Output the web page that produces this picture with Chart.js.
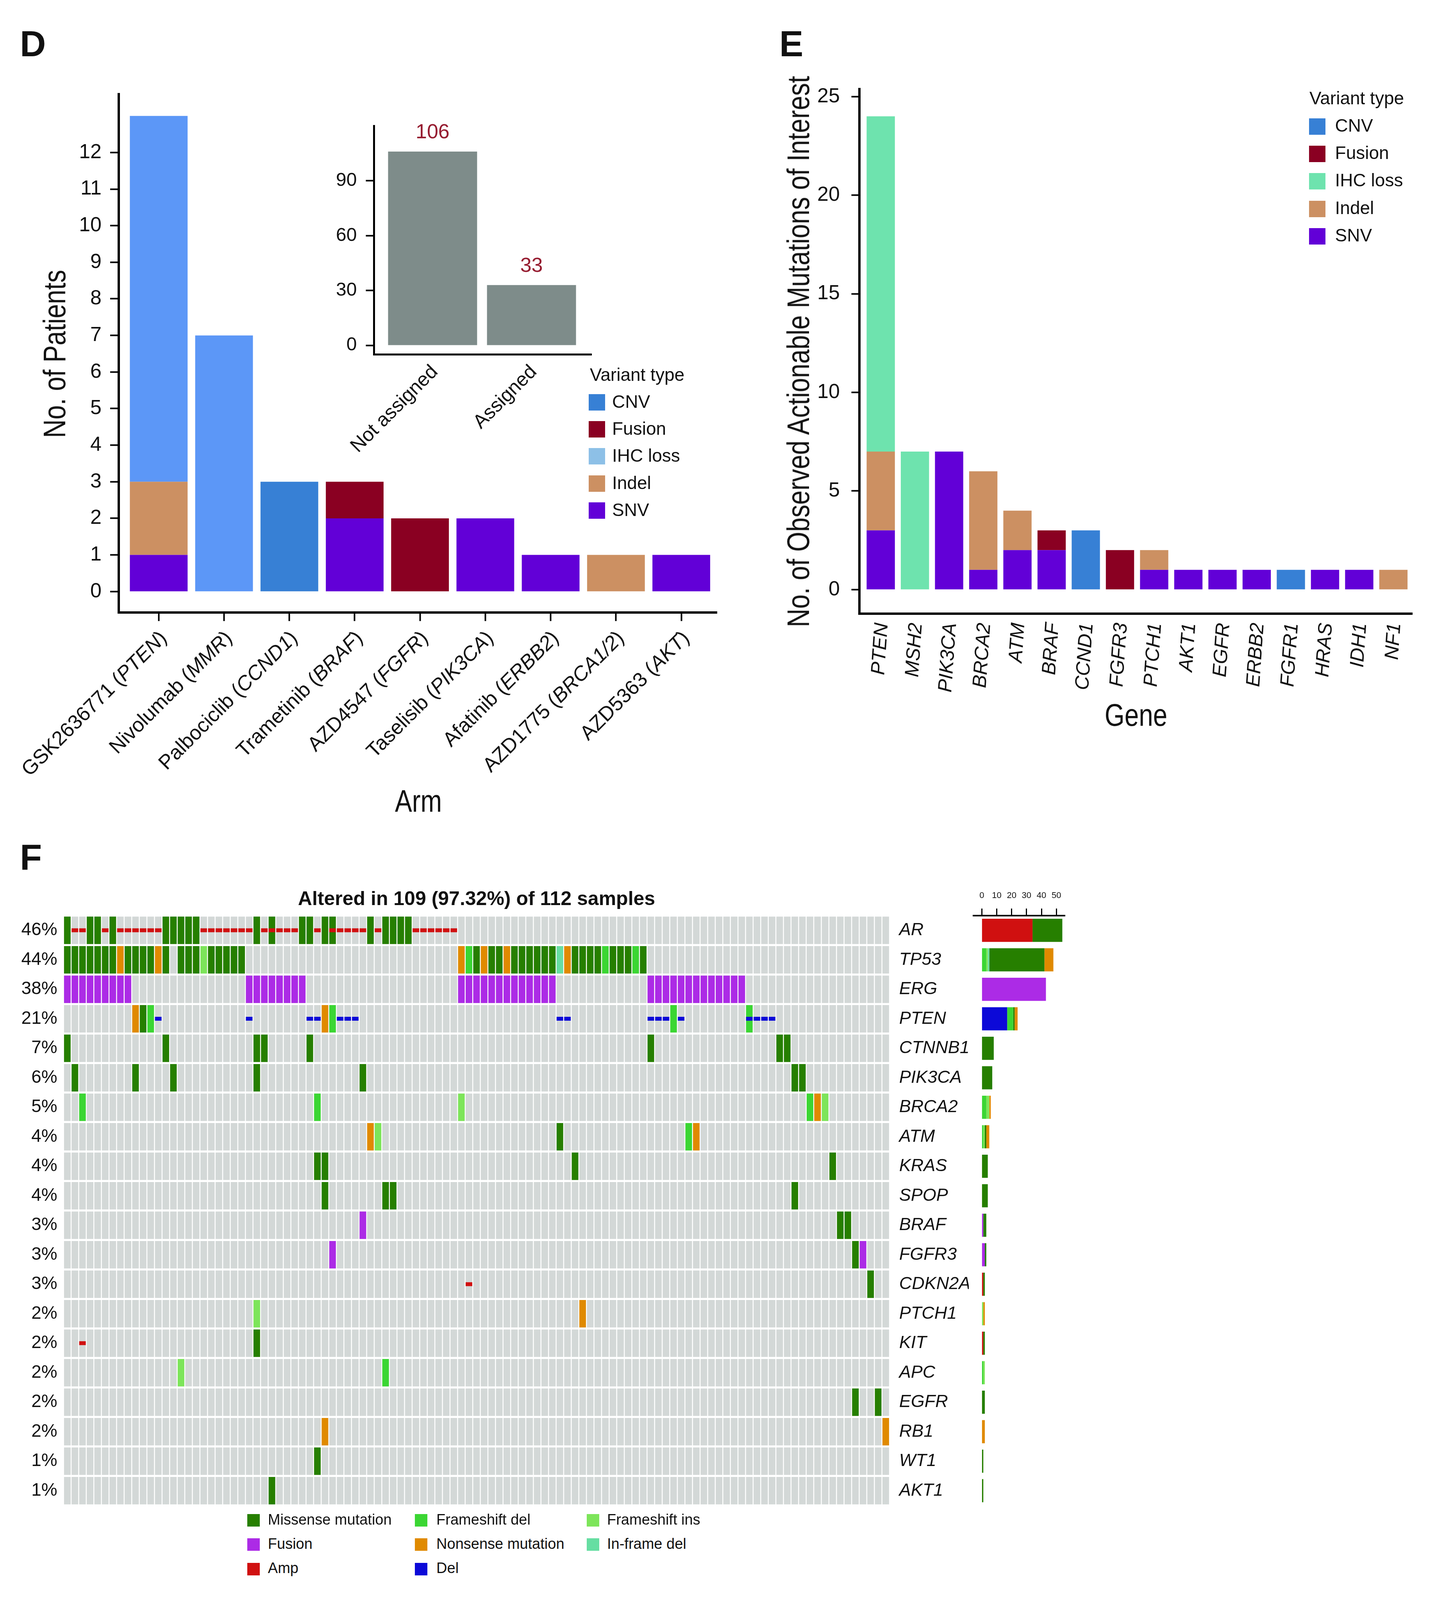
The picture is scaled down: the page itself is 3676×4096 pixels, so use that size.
<!DOCTYPE html>
<html>
<head>
<meta charset="utf-8">
<script src="https://cdn.jsdelivr.net/npm/chart.js@4.4.1/dist/chart.umd.min.js"></script>
<style>
html, body { margin: 0; padding: 0; background: #fff; }
body { width: 3676px; height: 4096px; position: relative; overflow: hidden; font-family: 'Liberation Sans', Arial, sans-serif; color: #111; }
canvas { position: absolute; }
.t { position: absolute; white-space: nowrap; line-height: 1; }
.sw { position: absolute; }
</style>
</head>
<body>
<script>
// ---------- panel D: patients per arm ----------
const arms = ['GSK2636771', 'Nivolumab', 'Palbociclib', 'Trametinib', 'AZD4547', 'Taselisib', 'Afatinib', 'AZD1775', 'AZD5363'];
const armTargets = ['PTEN', 'MMR', 'CCND1', 'BRAF', 'FGFR', 'PIK3CA', 'ERBB2', 'BRCA1/2', 'AKT'];
const armSNV    = [1, 0, 0, 2, 0, 2, 1, 0, 1];
const armIndel  = [2, 0, 0, 0, 0, 0, 0, 1, 0];
const armFusion = [0, 0, 0, 1, 2, 0, 0, 0, 0];
const armCNV    = [0, 0, 3, 0, 0, 0, 0, 0, 0];
const armIHC    = [10, 7, 0, 0, 0, 0, 0, 0, 0];

// inset
const assignLabels = ['Not assigned', 'Assigned'];
const assignCounts = [106, 33];

// ---------- panel E: actionable mutations per gene ----------
const genesE     = ['PTEN', 'MSH2', 'PIK3CA', 'BRCA2', 'ATM', 'BRAF', 'CCND1', 'FGFR3', 'PTCH1', 'AKT1', 'EGFR', 'ERBB2', 'FGFR1', 'HRAS', 'IDH1', 'NF1'];
const geneSNV    = [3, 0, 7, 1, 2, 2, 0, 0, 1, 1, 1, 1, 0, 1, 1, 0];
const geneIndel  = [4, 0, 0, 5, 2, 0, 0, 0, 1, 0, 0, 0, 0, 0, 0, 1];
const geneFusion = [0, 0, 0, 0, 0, 1, 0, 2, 0, 0, 0, 0, 0, 0, 0, 0];
const geneCNV    = [0, 0, 0, 0, 0, 0, 3, 0, 0, 0, 0, 0, 1, 0, 0, 0];
const geneIHC    = [17, 7, 0, 0, 0, 0, 0, 0, 0, 0, 0, 0, 0, 0, 0, 0];

// ---------- panel F: oncoprint ----------
const oncoGenes = ['AR', 'TP53', 'ERG', 'PTEN', 'CTNNB1', 'PIK3CA', 'BRCA2', 'ATM', 'KRAS', 'SPOP', 'BRAF', 'FGFR3', 'CDKN2A', 'PTCH1', 'KIT', 'APC', 'EGFR', 'RB1', 'WT1', 'AKT1'];
const oncoPct = ['46%', '44%', '38%', '21%', '7%', '6%', '5%', '4%', '4%', '4%', '3%', '3%', '3%', '2%', '2%', '2%', '2%', '2%', '1%', '1%'];
const nSamples = 109;
// sample columns (1..109) carrying each alteration, per gene
const missense = {
  AR: [1, 4, 5, 7, 14, 15, 16, 17, 18, 26, 28, 32, 33, 35, 36, 41, 43, 44, 45, 46],
  TP53: [1, 2, 3, 4, 5, 6, 7, 9, 10, 11, 12, 14, 16, 17, 18, 20, 21, 22, 23, 24, 55, 57, 58, 60, 61, 62, 63, 64, 65, 68, 69, 70, 71, 73, 74, 75, 77],
  PTEN: [11],
  CTNNB1: [1, 14, 26, 27, 33, 78, 95, 96],
  PIK3CA: [2, 10, 15, 26, 40, 97, 98],
  ATM: [66],
  KRAS: [34, 35, 68, 102],
  SPOP: [35, 43, 44, 97],
  BRAF: [103, 104],
  FGFR3: [105],
  CDKN2A: [107],
  KIT: [26],
  EGFR: [105, 108],
  WT1: [34],
  AKT1: [28]
};
const nonsense = { TP53: [8, 13, 53, 56, 59, 67], PTEN: [10, 35], BRCA2: [100], ATM: [41, 84], PTCH1: [69], RB1: [35, 109] };
const fsDel = { TP53: [54, 72, 76], PTEN: [12, 36, 81, 91], BRCA2: [3, 34, 99], ATM: [83], APC: [43] };
const fsIns = { TP53: [19], BRCA2: [53, 101], ATM: [42], PTCH1: [26], APC: [16] };
const inframeDel = { TP53: [66] };
const fusion = {
  ERG: [1, 2, 3, 4, 5, 6, 7, 8, 9, 25, 26, 27, 28, 29, 30, 31, 32, 53, 54, 55, 56, 57, 58, 59, 60, 61, 62, 63, 64, 65,
        78, 79, 80, 81, 82, 83, 84, 85, 86, 87, 88, 89, 90],
  BRAF: [40],
  FGFR3: [36, 106]
};
const amp = {
  AR: [2, 3, 6, 8, 9, 10, 11, 12, 13, 19, 20, 21, 22, 23, 24, 25, 27, 28, 29, 30, 31, 34, 36, 37, 38, 39, 40, 42, 47, 48, 49, 50, 51, 52],
  CDKN2A: [54],
  KIT: [3]
};
const del = { PTEN: [13, 25, 33, 34, 37, 38, 39, 66, 67, 78, 79, 80, 82, 91, 92, 93, 94] };

// side bar: alterations per gene
const sideAmp      = [34, 0, 0, 0, 0, 0, 0, 0, 0, 0, 0, 0, 1, 0, 1, 0, 0, 0, 0, 0];
const sideDel      = [0, 0, 0, 17, 0, 0, 0, 0, 0, 0, 0, 0, 0, 0, 0, 0, 0, 0, 0, 0];
const sideFusion   = [0, 0, 43, 0, 0, 0, 0, 0, 0, 0, 1, 2, 0, 0, 0, 0, 0, 0, 0, 0];
const sideFsDel    = [0, 3, 0, 4, 0, 0, 3, 1, 0, 0, 0, 0, 0, 0, 0, 1, 0, 0, 0, 0];
const sideFsIns    = [0, 1, 0, 0, 0, 0, 2, 1, 0, 0, 0, 0, 0, 1, 0, 1, 0, 0, 0, 0];
const sideInframe  = [0, 1, 0, 0, 0, 0, 0, 0, 0, 0, 0, 0, 0, 0, 0, 0, 0, 0, 0, 0];
const sideMissense = [20, 37, 0, 1, 8, 7, 0, 1, 4, 4, 2, 1, 1, 0, 1, 0, 2, 0, 1, 1];
const sideNonsense = [0, 6, 0, 2, 0, 0, 1, 2, 0, 0, 0, 0, 0, 1, 0, 0, 0, 2, 0, 0];

// ---------- styles ----------
const SANS = "'Liberation Sans', Arial, sans-serif";
const VC = { cnv: '#3780D5', fusion: '#8A0022', ihcD: '#5C97F7', ihcDkey: '#8DC0E7', ihcE: '#6EE3AE', indel: '#CC9062', snv: '#6200D7' };
const OC = { missense: '#267F00', fsDel: '#3BD633', fsIns: '#7DE55A', fusion: '#AC2BE6', nonsense: '#E08A00',
             inframe: '#66DEA2', amp: '#D01010', del: '#0C09D8', none: '#D3D8D7' };

Chart.defaults.font.family = SANS;
Chart.defaults.color = '#111';

function fixBox(size, horizontal) {
  return s => {
    if (horizontal) s.height = size; else s.width = size;
    s.paddingTop = 0; s.paddingBottom = 0; s.paddingLeft = 0; s.paddingRight = 0;
  };
}
function makeCanvas(left, top, w, h) {
  const c = document.createElement('canvas');
  c.width = w; c.height = h;
  c.style.left = left + 'px'; c.style.top = top + 'px';
  c.style.width = w + 'px'; c.style.height = h + 'px';
  document.body.appendChild(c);
  return c;
}
function addText(txt, x, baseline, size, opt) {
  opt = opt || {};
  const d = document.createElement('div');
  d.className = 't';
  d.textContent = txt;
  d.style.left = x + 'px';
  d.style.top = (baseline - 0.8465 * size) + 'px';
  d.style.fontSize = size + 'px';
  if (opt.bold) d.style.fontWeight = 'bold';
  if (opt.center) d.style.transform = 'translateX(-50%)';
  document.body.appendChild(d);
}
// condensed axis title centred on (cx, cy)
function addTitle(txt, cx, cy, size, rotate) {
  const d = document.createElement('div');
  d.className = 't';
  d.textContent = txt;
  d.style.left = cx + 'px';
  d.style.top = cy + 'px';
  d.style.fontSize = size + 'px';
  d.style.transform = 'translate(-50%, -50%)' + (rotate ? ' rotate(-90deg)' : '') + ' scaleX(0.82)';
  document.body.appendChild(d);
}
function addSwatch(x, y, w, h, color) {
  const d = document.createElement('div');
  d.className = 'sw';
  d.style.left = x + 'px'; d.style.top = y + 'px';
  d.style.width = w + 'px'; d.style.height = h + 'px';
  d.style.background = color;
  document.body.appendChild(d);
}
// rotated x labels, parts = [text, italic]
function rotLabels(rows, angle, dx, dy, size) {
  return {
    id: 'rotLabels',
    afterDraw(chart) {
      const ctx = chart.ctx, xs = chart.scales.x, base = chart.chartArea.bottom;
      ctx.save();
      ctx.fillStyle = '#111';
      ctx.textBaseline = 'middle';
      ctx.textAlign = 'left';
      rows.forEach((parts, i) => {
        const fonts = parts.map(p => (p[1] ? 'italic ' : '') + size + 'px ' + SANS);
        let w = 0;
        const widths = parts.map((p, k) => { ctx.font = fonts[k]; const m = ctx.measureText(p[0]).width; w += m; return m; });
        ctx.save();
        ctx.translate(xs.getPixelForValue(i) + dx, base + dy);
        ctx.rotate(angle * Math.PI / 180);
        let x = -w;
        parts.forEach((p, k) => { ctx.font = fonts[k]; ctx.fillText(p[0], x, 0); x += widths[k]; });
        ctx.restore();
      });
      ctx.restore();
    }
  };
}
const tickGrid = (len, w) => ({ display: true, offset: false, drawOnChartArea: false, drawTicks: true, tickLength: len, tickWidth: w, tickColor: '#000' });
const noGrid = { display: false, drawTicks: false, offset: false };
const pts = arr => arr.map((v, i) => ({ x: i, y: v }));
const base = { responsive: false, animation: false, devicePixelRatio: 1 };
const quiet = { legend: { display: false }, tooltip: { enabled: false } };

// ---------- D main ----------
new Chart(makeCanvas(0, 150, 1900, 2000), {
  type: 'bar',
  data: { datasets: [
    { label: 'SNV', data: pts(armSNV), backgroundColor: VC.snv },
    { label: 'Indel', data: pts(armIndel), backgroundColor: VC.indel },
    { label: 'Fusion', data: pts(armFusion), backgroundColor: VC.fusion },
    { label: 'CNV', data: pts(armCNV), backgroundColor: VC.cnv },
    { label: 'IHC loss', data: pts(armIHC), backgroundColor: VC.ihcD }
  ] },
  options: Object.assign({}, base, {
    layout: { padding: { top: 90.5, right: 64.5, left: 0, bottom: 0 } },
    datasets: { bar: { categoryPercentage: 1, barPercentage: 0.884, borderWidth: 0 } },
    plugins: quiet,
    scales: {
      x: { type: 'linear', stacked: true, min: -0.612, max: 8.547, offset: false,
           afterBuildTicks: s => { s.ticks = arms.map((a, i) => ({ value: i })); },
           afterFit: fixBox(582.1, true),
           ticks: { display: false },
           grid: tickGrid(22, 4),
           border: { display: true, color: '#000', width: 6 } },
      y: { type: 'linear', stacked: true, min: -0.573, max: 13.6,
           afterBuildTicks: s => { s.ticks = Array.from({ length: 13 }, (_, i) => ({ value: i })); },
           afterFit: fixBox(304, false),
           ticks: { font: { size: 52 }, color: '#111', padding: 22, callback: v => v },
           grid: tickGrid(22, 4),
           border: { display: true, color: '#000', width: 6 } }
    }
  }),
  plugins: [rotLabels(arms.map((a, i) => [[a + ' (', false], [armTargets[i], true], [')', false]]), -45, 13, 58, 52)]
});

// ---------- D inset ----------
new Chart(makeCanvas(650, 290, 910, 960), {
  type: 'bar',
  data: { datasets: [{ label: 'Patients', data: pts(assignCounts), backgroundColor: '#7E8C8A' }] },
  options: Object.assign({}, base, {
    layout: { padding: { top: 32.6, right: 45.7, left: 0, bottom: 0 } },
    datasets: { bar: { categoryPercentage: 1, barPercentage: 0.9, borderWidth: 0 } },
    plugins: quiet,
    scales: {
      x: { type: 'linear', min: -0.592, max: 1.607, offset: false,
           afterBuildTicks: s => { s.ticks = assignLabels.map((a, i) => ({ value: i })); },
           afterFit: fixBox(342.1, true),
           ticks: { display: false },
           grid: noGrid,
           border: { display: true, color: '#000', width: 5 } },
      y: { type: 'linear', min: -5.1, max: 120,
           afterBuildTicks: s => { s.ticks = [0, 30, 60, 90].map(v => ({ value: v })); },
           afterFit: fixBox(307.5, false),
           ticks: { font: { size: 48 }, color: '#111', padding: 23, callback: v => v },
           grid: tickGrid(21, 4),
           border: { display: true, color: '#000', width: 5 } }
    }
  }),
  plugins: [
    rotLabels(assignLabels.map(l => [[l, false]]), -45, 6, 36.5, 50),
    { id: 'valueLabels', afterDatasetsDraw(chart) {
        const ctx = chart.ctx;
        ctx.save();
        ctx.fillStyle = '#961C30';
        ctx.font = '52px ' + SANS;
        ctx.textAlign = 'center';
        ctx.textBaseline = 'alphabetic';
        chart.getDatasetMeta(0).data.forEach((bar, i) => ctx.fillText(String(assignCounts[i]), bar.x, bar.y - 34));
        ctx.restore();
    } }
  ]
});

// ---------- E ----------
new Chart(makeCanvas(1950, 150, 1710, 1800), {
  type: 'bar',
  data: { datasets: [
    { label: 'SNV', data: pts(geneSNV), backgroundColor: VC.snv },
    { label: 'Indel', data: pts(geneIndel), backgroundColor: VC.indel },
    { label: 'Fusion', data: pts(geneFusion), backgroundColor: VC.fusion },
    { label: 'CNV', data: pts(geneCNV), backgroundColor: VC.cnv },
    { label: 'IHC loss', data: pts(geneIHC), backgroundColor: VC.ihcE }
  ] },
  options: Object.assign({}, base, {
    layout: { padding: { top: 78.2, right: 44.4, left: 0, bottom: 0 } },
    datasets: { bar: { categoryPercentage: 1, barPercentage: 0.827, borderWidth: 0 } },
    plugins: quiet,
    scales: {
      x: { type: 'linear', stacked: true, min: -0.63, max: 15.556, offset: false,
           afterBuildTicks: s => { s.ticks = genesE.map((g, i) => ({ value: i })); },
           afterFit: fixBox(379.2, true),
           ticks: { display: false },
           grid: noGrid,
           border: { display: true, color: '#000', width: 6 } },
      y: { type: 'linear', stacked: true, min: -1.22, max: 25.38,
           afterBuildTicks: s => { s.ticks = [0, 5, 10, 15, 20, 25].map(v => ({ value: v })); },
           afterFit: fixBox(249.5, false),
           ticks: { font: { size: 52 }, color: '#111', padding: 29.6, callback: v => v },
           grid: tickGrid(20, 4),
           border: { display: true, color: '#000', width: 6 } }
    }
  }),
  plugins: [rotLabels(genesE.map(g => [[g, true]]), -86, 4, 24, 50)]
});

// ---------- F oncoprint ----------
const rowH = 0.464, thinH = 0.066;
function cells(map, h) {
  const out = [];
  oncoGenes.forEach((g, r) => (map[g] || []).forEach(c => out.push({ x: c, y: [r - h, r + h] })));
  return out;
}
const bgCells = [];
for (let r = 0; r < oncoGenes.length; r++) {
  for (let c = 1; c <= nSamples; c++) bgCells.push({ x: c, y: [r - rowH, r + rowH] });
}
const rowTicks = s => { s.ticks = oncoGenes.map((g, i) => ({ value: i })); };
new Chart(makeCanvas(0, 2330, 2480, 1540), {
  type: 'bar',
  data: { datasets: [
    { label: 'Amp', data: cells(amp, thinH), backgroundColor: OC.amp },
    { label: 'Del', data: cells(del, thinH), backgroundColor: OC.del },
    { label: 'Missense mutation', data: cells(missense, rowH), backgroundColor: OC.missense },
    { label: 'Frameshift del', data: cells(fsDel, rowH), backgroundColor: OC.fsDel },
    { label: 'Frameshift ins', data: cells(fsIns, rowH), backgroundColor: OC.fsIns },
    { label: 'Fusion', data: cells(fusion, rowH), backgroundColor: OC.fusion },
    { label: 'Nonsense mutation', data: cells(nonsense, rowH), backgroundColor: OC.nonsense },
    { label: 'In-frame del', data: cells(inframeDel, rowH), backgroundColor: OC.inframe },
    { label: 'none', data: bgCells, backgroundColor: OC.none }
  ] },
  options: Object.assign({}, base, {
    layout: { padding: { top: 13.85, bottom: 16.15, left: 0, right: 0 } },
    datasets: { bar: { grouped: false, categoryPercentage: 1, barPercentage: 0.871, borderWidth: 0 } },
    plugins: quiet,
    scales: {
      x: { type: 'linear', min: 0.5, max: 109.5, offset: false, display: false, grid: noGrid },
      y: { type: 'linear', min: -0.5, max: 19.5, reverse: true, position: 'left',
           afterBuildTicks: rowTicks, afterFit: fixBox(162.65, false),
           ticks: { font: { size: 46 }, color: '#111', padding: 16, autoSkip: false, callback: v => oncoPct[v] },
           grid: noGrid, border: { display: false } },
      y2: { type: 'linear', min: -0.5, max: 19.5, reverse: true, position: 'right',
            afterBuildTicks: rowTicks, afterFit: fixBox(202.9, false),
            ticks: { font: { size: 45, style: 'italic' }, color: '#111', padding: 24.6, autoSkip: false, callback: v => oncoGenes[v] },
            grid: noGrid, border: { display: false } }
    }
  })
});

// ---------- F side bar ----------
new Chart(makeCanvas(2470, 2250, 290, 1620), {
  type: 'bar',
  data: { labels: oncoGenes, datasets: [
    { label: 'Amp', data: sideAmp, backgroundColor: OC.amp },
    { label: 'Del', data: sideDel, backgroundColor: OC.del },
    { label: 'Fusion', data: sideFusion, backgroundColor: OC.fusion },
    { label: 'Frameshift del', data: sideFsDel, backgroundColor: OC.fsDel },
    { label: 'Frameshift ins', data: sideFsIns, backgroundColor: OC.fsIns },
    { label: 'In-frame del', data: sideInframe, backgroundColor: OC.inframe },
    { label: 'Missense mutation', data: sideMissense, backgroundColor: OC.missense },
    { label: 'Nonsense mutation', data: sideNonsense, backgroundColor: OC.nonsense }
  ] },
  options: Object.assign({}, base, {
    indexAxis: 'y',
    layout: { padding: { left: 22, right: 33.7, top: 0, bottom: 16.15 } },
    datasets: { bar: { categoryPercentage: 1, barPercentage: 0.785, borderWidth: 0 } },
    plugins: quiet,
    scales: {
      y: { type: 'category', stacked: true, display: false },
      x: { type: 'linear', position: 'top', stacked: true, min: -5.6, max: 55.8,
           afterBuildTicks: s => { s.ticks = [0, 10, 20, 30, 40, 50].map(v => ({ value: v })); },
           afterFit: fixBox(93.85, true),
           ticks: { font: { size: 22 }, color: '#111', padding: 20, maxRotation: 0, callback: v => v },
           grid: tickGrid(18, 3),
           border: { display: true, color: '#000', width: 4 } }
    }
  })
});

// ---------- HTML text: panel letters, axis titles, legends, F title ----------
addText('D', 51, 143.7, 92, { bold: true });
addText('E', 1995, 143.7, 92, { bold: true });
addText('F', 51, 2226, 92, { bold: true });

addTitle('No. of Patients', 139.5, 905.5, 80, true);
addTitle('Arm', 1071, 2051, 80, false);
addTitle('No. of Observed Actionable Mutations of Interest', 2044, 899.5, 80, true);
addTitle('Gene', 2908, 1831, 80, false);

const keyD = [['CNV', VC.cnv], ['Fusion', VC.fusion], ['IHC loss', VC.ihcDkey], ['Indel', VC.indel], ['SNV', VC.snv]];
addText('Variant type', 1510, 974.6, 46);
keyD.forEach((k, i) => {
  const top = 1009 + i * 69.2;
  addSwatch(1507, top, 42, 42, k[1]);
  addText(k[0], 1567, top + 35, 46);
});
const keyE = [['CNV', VC.cnv], ['Fusion', VC.fusion], ['IHC loss', VC.ihcE], ['Indel', VC.indel], ['SNV', VC.snv]];
addText('Variant type', 3352, 267, 46);
keyE.forEach((k, i) => {
  const top = 302.6 + i * 70.4;
  addSwatch(3351, top, 42, 42, k[1]);
  addText(k[0], 3417.6, top + 34, 46);
});

addText('Altered in 109 (97.32%) of 112 samples', 1220, 2317, 50, { bold: true, center: true });

const keyF = [
  ['Missense mutation', OC.missense, 0, 0], ['Frameshift del', OC.fsDel, 1, 0], ['Frameshift ins', OC.fsIns, 2, 0],
  ['Fusion', OC.fusion, 0, 1], ['Nonsense mutation', OC.nonsense, 1, 1], ['In-frame del', OC.inframe, 2, 1],
  ['Amp', OC.amp, 0, 2], ['Del', OC.del, 1, 2]
];
const keyFsx = [633.4, 1062.3, 1501.7], keyFtx = [685.8, 1117.1, 1554];
keyF.forEach(k => {
  const top = 3876 + k[3] * 62.3;
  addSwatch(keyFsx[k[2]], top, 32, 32, k[1]);
  addText(k[0], keyFtx[k[2]], top + 26.7, 38);
});
</script>
</body>
</html>
